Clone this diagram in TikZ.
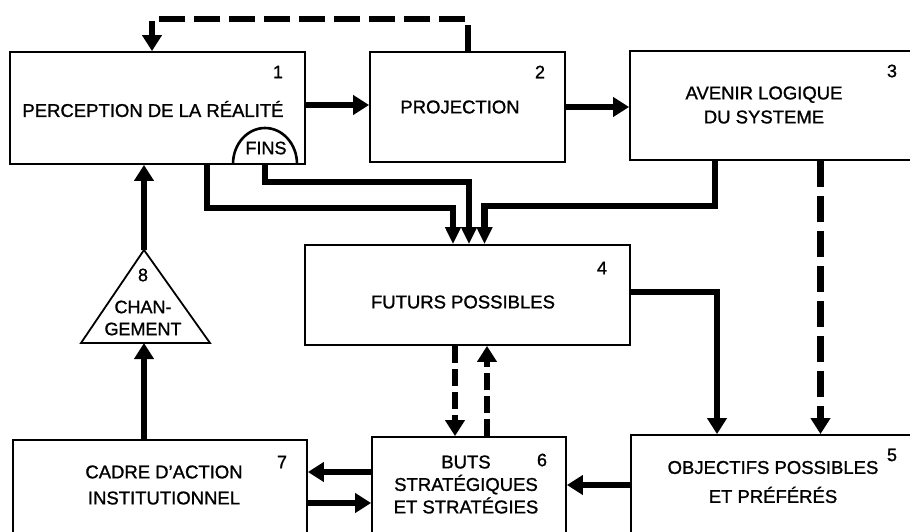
\documentclass[tikz,border=0pt]{standalone}
\usepackage{fontspec}
\setmainfont{Liberation Sans}
\newfontfamily\lblfont[FakeBold=1.2]{Liberation Sans}
\usetikzlibrary{arrows.meta}
\begin{document}
\begin{tikzpicture}[x=1pt,y=-1pt,
  box/.style={draw, line width=1.8pt, rectangle, inner sep=0pt},
  lbl/.style={font=\lblfont\fontsize{18.5}{23}\selectfont, align=center, inner sep=0pt},
  num/.style={font=\lblfont\fontsize{18}{20}\selectfont, inner sep=0pt},
  flow/.style={line width=6.5pt, -{Triangle[length=16pt,width=19pt]}},
  flowsm/.style={line width=6.5pt, -{Triangle[length=17pt,width=15pt]}},
  dflow/.style={flow, dash pattern=on 26pt off 9pt},
  dflowsm/.style={flow, dash pattern=on 17pt off 6pt},
]
\useasboundingbox (0,0) rectangle (910,532);

% boxes
\node[box, minimum width=295pt, minimum height=112pt] (b1) at (157.5,108) {};
\node[box, minimum width=195pt, minimum height=110pt] (b2) at (467.5,107) {};
\node[box, minimum width=305pt, minimum height=109pt] (b3) at (782.5,105.5) {};
\node[box, minimum width=325pt, minimum height=100pt] (b4) at (467.5,295) {};
\node[box, minimum width=304pt, minimum height=135pt] (b5) at (783,502.5) {};
\node[box, minimum width=194pt, minimum height=133pt] (b6) at (469,503.5) {};
\node[box, minimum width=294pt, minimum height=130pt] (b7) at (160,505) {};

% triangle 8
\draw[line width=1.8pt, line join=miter] (144,250) -- (210,343) -- (81,343) -- cycle;
\coordinate (c8top) at (144,250);
\coordinate (c8bot) at (144,343);

% FINS dome
\draw[line width=2.6pt] (233,164) arc[start angle=180, end angle=360, x radius=32, y radius=36];
\coordinate (finsb) at (265,164);

% texts
\node[lbl] (t1) at (153,109) {PERCEPTION DE LA RÉALITÉ};
\node[lbl] (t2) at (460,107) {PROJECTION};
\node[lbl, font=\lblfont\fontsize{18.5}{24}\selectfont] (t3) at (764,105) {AVENIR LOGIQUE\\DU SYSTEME};
\node[lbl] (t4) at (463,302) {FUTURS POSSIBLES};
\node[lbl, font=\lblfont\fontsize{18.5}{29}\selectfont] (t5) at (773,482) {OBJECTIFS POSSIBLES\\ET PRÉFÉRÉS};
\node[lbl, font=\lblfont\fontsize{18.5}{22.5}\selectfont] (t6) at (466,484.5) {BUTS\\STRATÉGIQUES\\ET STRATÉGIES};
\node[lbl, font=\lblfont\fontsize{18.5}{26}\selectfont] (t7) at (164,485) {CADRE D’ACTION\\INSTITUTIONNEL};
\node[lbl, font=\lblfont\fontsize{18}{22}\selectfont] (t8) at (143,318) {CHAN-\\GEMENT};
\node[lbl, font=\lblfont\fontsize{18}{22}\selectfont] (fins) at (266,148) {FINS};

\node[num] (n1) at (278,72) {1};
\node[num] (n2) at (540,72) {2};
\node[num] (n3) at (892,71) {3};
\node[num] (n4) at (602,268) {4};
\node[num] (n5) at (892,455) {5};
\node[num] (n6) at (542,460) {6};
\node[num] (n7) at (282,462) {7};
\node[num] (n8) at (143,275) {8};

% connectors
\draw[flow] ([yshift=3pt]b1.east) -- ([yshift=3pt]b1.east -| b2.west);
\draw[flow] (b2.east) -- (b2.east -| b3.west);
\draw[dflow] ([xshift=0.5pt]b2.north) -- ++(0,-32) -| ([xshift=-5.5pt]b1.north);

\draw[flow] (c8bot |- b7.north) -- (c8bot);
\draw[flow] (c8top) -- (c8top |- b1.south);

\draw[flowsm] ([xshift=49.5pt]b1.south) -- ++(0,43) -| ([xshift=-14.5pt]b4.north);
\draw[flowsm] (finsb) -- ++(0,18) -| ([xshift=1.5pt]b4.north);
\draw[flowsm] ([xshift=-67.5pt]b3.south) -- ++(0,45) -| ([xshift=17pt]b4.north);

\draw[flow] ([yshift=3pt]b4.east) -| ([xshift=-66pt]b5.north);
\draw[dflow] ([xshift=38pt]b3.south) -- ([xshift=38pt]b3.south |- b5.north);

\draw[dflowsm] ([xshift=-12.5pt]b4.south) -- ([xshift=-12.5pt]b4.south |- b6.north);
\draw[dflowsm] ([xshift=19.5pt]b4.south |- b6.north) -- ([xshift=19.5pt]b4.south);

\draw[flow] ([yshift=17.5pt]b5.west) -- ([yshift=17.5pt]b5.west -| b6.east);
\draw[flow] ([yshift=31.5pt]b6.west) -- ([yshift=31.5pt]b6.west -| b7.east);
\draw[flow] ([yshift=2pt]b7.east) -- ([yshift=2pt]b7.east -| b6.west);
\end{tikzpicture}
\end{document}
